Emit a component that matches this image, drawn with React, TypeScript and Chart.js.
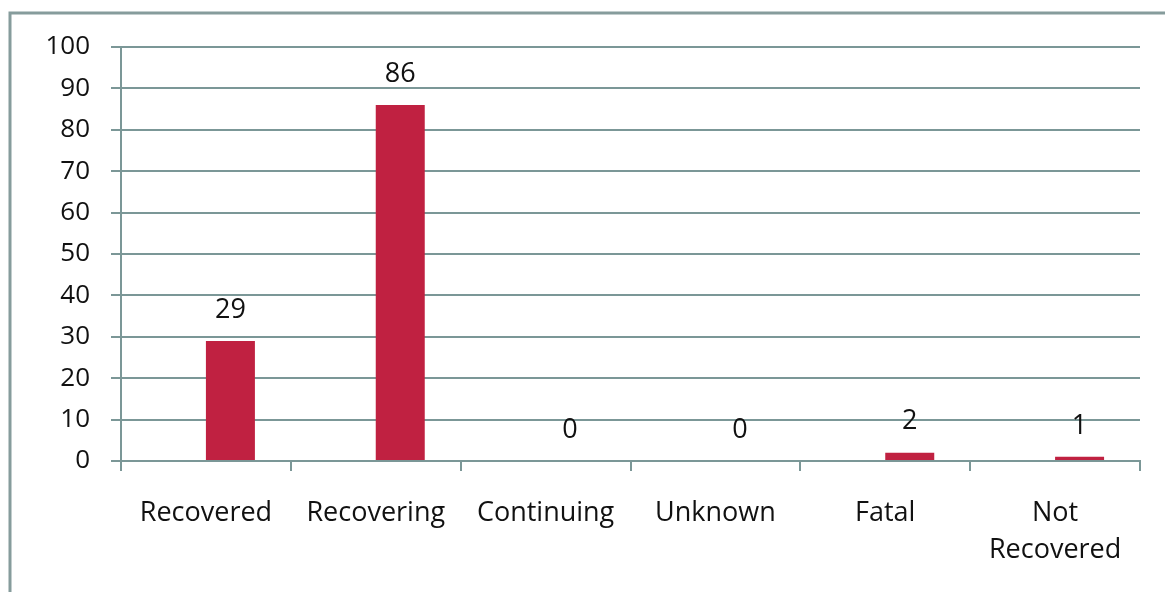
import React, { useEffect, useRef } from "react";
import { Chart, registerables } from "chart.js";

Chart.register(...registerables);

const categories: (string | string[])[] = ["Recovered", "Recovering", "Continuing", "Unknown", "Fatal", ["Not", "Recovered"]];
const values: number[] = [29, 86, 0, 0, 2, 1];
const emptySeries: (number | null)[] = [null, null, null, null, null, null];
const yTicks = { min: 0, max: 100, step: 10 };

const LINE = "#7b9797";
const BAR = "#c02141";
const TEXT = "#111111";
const FONT = "'Open Sans', 'Noto Sans', sans-serif";

export default function App() {
  const ref = useRef<HTMLCanvasElement | null>(null);

  useEffect(() => {
    document.body.style.margin = "0";
    const canvas = ref.current;
    if (!canvas) return;

    const frame = {
      id: "frame",
      beforeDraw(chart: any) {
        const ctx = chart.ctx;
        ctx.save();
        ctx.strokeStyle = "#869c9c";
        ctx.lineWidth = 3;
        ctx.beginPath();
        ctx.moveTo(10, chart.height + 5);
        ctx.lineTo(10, 13);
        ctx.lineTo(chart.width + 5, 13);
        ctx.stroke();
        ctx.restore();
      },
    };

    const labels = {
      id: "valueLabels",
      afterDatasetsDraw(chart: any) {
        const ctx = chart.ctx;
        const meta = chart.getDatasetMeta(1);
        ctx.save();
        ctx.font = `27px ${FONT}`;
        ctx.fillStyle = TEXT;
        ctx.textAlign = "center";
        ctx.textBaseline = "middle";
        meta.data.forEach((bar: any, i: number) => {
          ctx.fillText(String(values[i]), bar.x, bar.y - 31);
        });
        ctx.restore();
      },
    };

    const chart = new Chart(canvas, {
      type: "bar",
      data: {
        labels: categories,
        datasets: [
          { label: "empty", data: emptySeries, backgroundColor: BAR },
          { label: "Outcome", data: values, backgroundColor: BAR, borderWidth: 0 },
        ],
      },
      options: {
        animation: false,
        responsive: false,
        maintainAspectRatio: false,
        layout: { padding: { top: 47, right: 25, left: 0, bottom: 0 } },
        datasets: { bar: { categoryPercentage: 0.577, barPercentage: 1 } },
        plugins: { legend: { display: false }, tooltip: { enabled: false } },
        scales: {
          x: {
            grid: { drawOnChartArea: false, drawTicks: true, tickLength: 10, color: LINE, lineWidth: 2, offset: true },
            border: { display: true, color: LINE, width: 2 },
            ticks: { color: TEXT, font: { family: FONT, size: 27, lineHeight: 1.4 }, padding: 23, maxRotation: 0, autoSkip: false },
            afterFit(scale: any) {
              scale.height = 131;
            },
          },
          y: {
            min: yTicks.min,
            max: yTicks.max,
            grid: { color: LINE, lineWidth: 2, tickLength: 10, drawTicks: true },
            border: { display: true, color: LINE, width: 2 },
            ticks: { stepSize: yTicks.step, color: TEXT, font: { family: FONT, size: 26 }, padding: 21 },
            afterFit(scale: any) {
              scale.width = 121;
            },
          },
        },
      },
      plugins: [frame, labels],
    });

    return () => chart.destroy();
  }, []);

  return <canvas ref={ref} width={1165} height={592} style={{ display: "block" }} />;
}
